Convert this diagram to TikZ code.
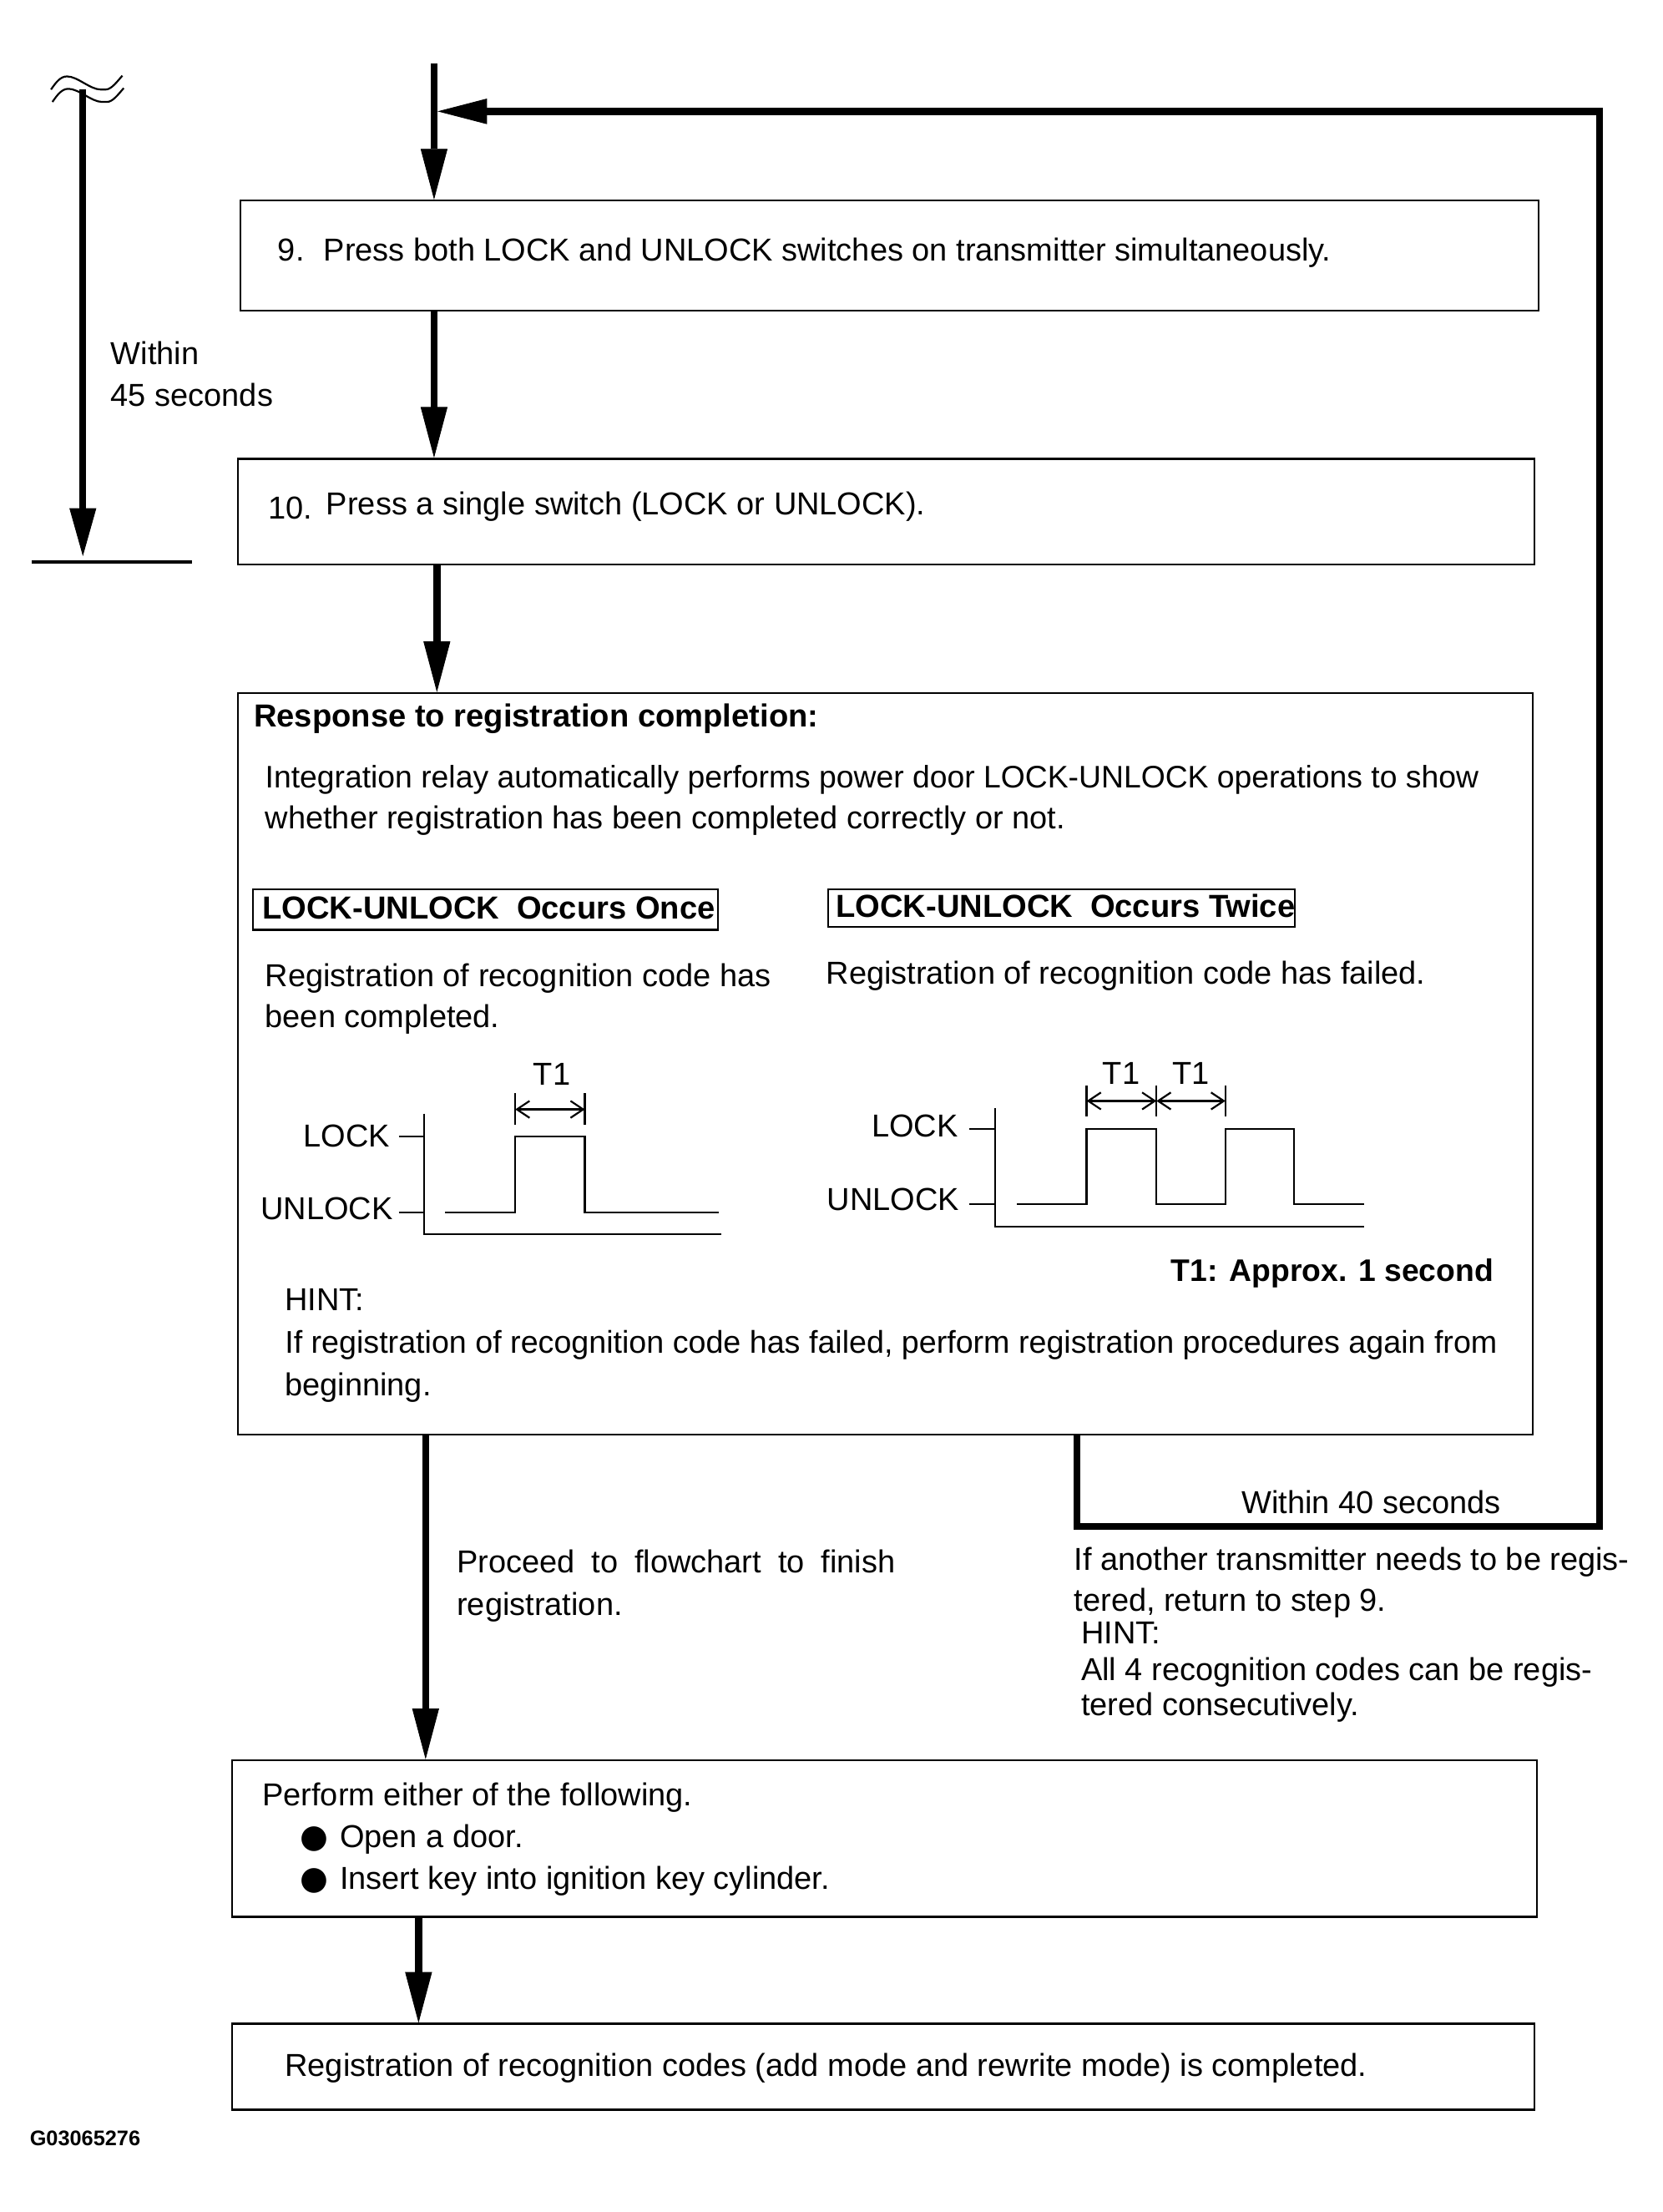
\documentclass[tikz,border=0pt]{standalone}
\usepackage{fontspec}
\setmainfont{Liberation Sans}
\newfontfamily\bulletfont{DejaVu Sans}
\usetikzlibrary{arrows.meta}
\begin{document}
\begin{tikzpicture}[x=1pt,y=-1pt,
  box/.style={draw, line width=1.4pt, inner sep=0pt, anchor=north west},
  lbox/.style={draw, line width=1.3pt, inner sep=0pt, anchor=north west},
  flow/.style={line width=5pt, -{Triangle[length=36pt,width=19pt,line width=0.5pt]}},
  thinl/.style={line width=1.3pt},
  dim/.style={line width=1.3pt, {Straight Barb[length=9pt,width=12pt]}-{Straight Barb[length=9pt,width=12pt]}},
  txt/.style={anchor=base west, inner sep=0pt, font=\fontsize{22.5}{29.5}\selectfont},
  btxt/.style={txt, font=\fontsize{22.6}{29.5}\selectfont\bfseries},
  ctxt/.style={inner sep=0pt, font=\fontsize{22.5}{29.5}\selectfont}
]
\useasboundingbox[fill=white] (0,0) rectangle (1180,1569.2);

% ---------- boxes ----------
\node[box, minimum width=921pt, minimum height=78pt] (b9) at (170,141.6) {};
\node[box, minimum width=920pt, minimum height=75pt] (b10) at (168,324.7) {};
\node[box, minimum width=919pt, minimum height=526pt] (b11) at (168,491) {};
\node[box, minimum width=926pt, minimum height=111pt] (b12) at (164,1248) {};
\node[box, minimum width=924pt, minimum height=61pt] (b13) at (164,1435) {};

% ---------- texts in boxes ----------
\node[txt] (n9) at (197,185) {9.};
\node[txt] (t9) at (229.5,185) {Press both LOCK and UNLOCK switches on transmitter simultaneously.};
\node[txt] (n10) at (190,368) {10.};
\node[txt] (t10) at (231.4,365) {Press a single switch (LOCK or UNLOCK).};

\node[btxt] (rtitle) at (180,515.9) {Response to registration completion:};
\node[txt, font=\fontsize{22.1}{29.5}\selectfont] (int1) at (188,558.9) {Integration relay automatically performs power door LOCK-UNLOCK operations to show};
\node[txt] (int2) at (188,587.9) {whether registration has been completed correctly or not.};

\node[lbox, minimum width=330pt, minimum height=29pt] (once) at (179,630) {};
\node[btxt] (oncet) at (186,652) {LOCK-UNLOCK\hspace{6pt} Occurs Once};
\node[lbox, minimum width=331pt, minimum height=27pt] (twice) at (587,630) {};
\node[btxt] (twicet) at (593,651) {LOCK-UNLOCK\hspace{6pt} Occurs Twice};

\node[txt] (reg1) at (188,699.9) {Registration of recognition code has};
\node[txt] (reg2) at (188,728.9) {been completed.};
\node[txt] (regf) at (586,697.9) {Registration of recognition code has failed.};

% ---------- timing diagram: once ----------
\coordinate (la) at (301,790);
\coordinate (lo) at (301,875.6);
\coordinate (le) at (512,875.6);
\draw[thinl] (la) -- (lo) -- (le);
\draw[thinl] (283,806) -- (301,806);
\draw[thinl] (283,860) -- (301,860);
\draw[thinl] (316,860) -- (365.6,860) -- (365.6,806) -- (415,806) -- (415,860) -- (510,860);
\draw[thinl] (365.6,775.6) -- (365.6,798);
\draw[thinl] (415,775.6) -- (415,798);
\coordinate (ld1) at (365.6,787);
\coordinate (ld2) at (415,787);
\draw[dim] (ld1) -- (ld2);
\node[ctxt, anchor=east] (llock) at (277,805.7) {LOCK};
\node[ctxt, anchor=east] (lunlock) at (279,857.5) {UNLOCK};
\node[ctxt, anchor=base] (lt1) at (391.6,770) {T1};

% ---------- timing diagram: twice ----------
\coordinate (ra) at (706,786);
\coordinate (ro) at (706,870);
\coordinate (re) at (968,870);
\draw[thinl] (ra) -- (ro) -- (re);
\draw[thinl] (688,801) -- (706,801);
\draw[thinl] (688,854) -- (706,854);
\draw[thinl] (721.6,854) -- (771,854) -- (771,801) -- (820.6,801) -- (820.6,854) -- (869.5,854) -- (869.5,801) -- (918,801) -- (918,854) -- (968,854);
\draw[thinl] (771,770) -- (771,792);
\draw[thinl] (820.6,770) -- (820.6,792);
\draw[thinl] (869.5,770) -- (869.5,792);
\coordinate (rd1) at (771,781);
\coordinate (rd2) at (820.6,781);
\coordinate (rd3) at (869.5,781);
\draw[dim] (rd1) -- (rd2);
\draw[dim] (rd2) -- (rd3);
\node[ctxt, anchor=east] (rlock) at (680,798.6) {LOCK};
\node[ctxt, anchor=east] (runlock) at (681,851) {UNLOCK};
\node[ctxt, anchor=base] (rt1a) at (795.6,769) {T1};
\node[ctxt, anchor=base] (rt1b) at (845,769) {T1};

\node[btxt, anchor=base east, font=\fontsize{22.1}{29.5}\selectfont\bfseries] (approx) at (1060,908.9) {T1: Approx. 1 second};
\node[txt] (hint1) at (202,929.9) {HINT:};
\node[txt, font=\fontsize{22.3}{29.5}\selectfont] (hint2) at (202,959.9) {If registration of recognition code has failed, perform registration procedures again from};
\node[txt] (hint3) at (202,989.9) {beginning.};

% ---------- lower texts ----------
\node[txt] (proc1) at (324,1115.9) {\makebox[311pt][s]{Proceed to flowchart to finish}};
\node[txt] (proc2) at (324,1145.9) {registration.};
\node[txt] (w40) at (881,1073.9) {Within 40 seconds};
\node[txt] (an1) at (762,1113.9) {If another transmitter needs to be regis-};
\node[txt] (an2) at (762,1142.9) {tered, return to step 9.};
\node[txt] (an3) at (767,1165.9) {HINT:};
\node[txt] (an4) at (767,1191.9) {All 4 recognition codes can be regis-};
\node[txt] (an5) at (767,1216.9) {tered consecutively.};

\node[txt] (perf) at (186,1280.9) {Perform either of the following.};
\node[txt] (bul1) at (213,1310.5) {\makebox[28pt][l]{\bulletfont\fontsize{23}{29}\selectfont ●}Open a door.};
\node[txt] (bul2) at (213,1340.5) {\makebox[28pt][l]{\bulletfont\fontsize{23}{29}\selectfont ●}Insert key into ignition key cylinder.};
\node[txt] (fin) at (202,1472.9) {Registration of recognition codes (add mode and rewrite mode) is completed.};

\node[anchor=base west, inner sep=0pt, font=\fontsize{15}{18}\selectfont\bfseries] (gid) at (21,1522) {G03065276};

\node[txt] (w45a) at (78.5,258.6) {Within};
\node[txt] (w45b) at (78.5,288.3) {45 seconds};

% ---------- connectors ----------
\coordinate (top) at (308,45);
\coordinate (c10) at (310,0);
\coordinate (c11) at (302,0);
\coordinate (c12) at (297,0);
\draw[flow] (top) -- (b9.north -| top);
\draw[flow] (b9.south -| top) -- (b10.north -| top);
\draw[flow] (b10.south -| c10) -- (b11.north -| c10);
\draw[flow] (b11.south -| c11) -- (b12.north -| c11);
\draw[flow] (b12.south -| c12) -- (b13.north -| c12);

% feedback loop
\coordinate (fb) at (764,0);
\coordinate (rb) at (1135,1083);
\coordinate (rtop) at (1135,79);
\coordinate (junc) at (310.5,79);
\draw[line width=5pt, line join=miter, -{Triangle[length=35pt,width=18pt,line width=0.5pt]}]
  (b11.south -| fb) |- (rb) -- (rtop) -- (junc);

% 45 seconds arrow
\coordinate (w1) at (58.8,63.5);
\coordinate (w2) at (58.8,394.5);
\draw[line width=4.7pt, -{Triangle[length=34pt,width=19pt,line width=0.5pt]}] (w1) -- (w2);
\coordinate (bar1) at (22.5,398.6);
\coordinate (bar2) at (136,398.6);
\draw[line width=2.1pt] (bar1) -- (bar2);
% break symbol
\draw[thinl] (36.2,63.5) .. controls (40,58) and (43,54.2) .. (47.6,54.2) .. controls (55,54.2) and (64,63.5) .. (71.4,63.5) -- (75,63.5) .. controls (79,63.5) and (83,58) .. (86.8,53.7);
\draw[thinl] (37.2,72.3) .. controls (41,66.8) and (44,63) .. (48.6,63) .. controls (56,63) and (65,72.3) .. (72.4,72.3) -- (76,72.3) .. controls (80,72.3) and (84,66.8) .. (87.8,62.5);
\end{tikzpicture}
\end{document}
